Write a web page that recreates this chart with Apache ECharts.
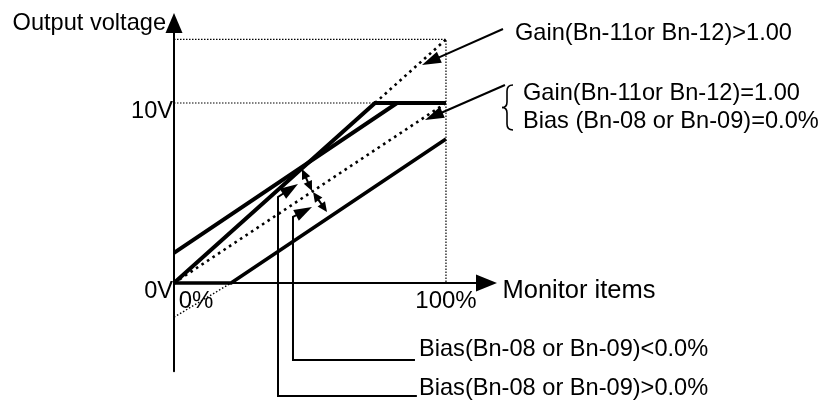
<!DOCTYPE html>
<html><head><meta charset="utf-8">
<script src="https://cdn.jsdelivr.net/npm/echarts@6/dist/echarts.min.js"></script>
<style>html,body{margin:0;padding:0;background:#fff}#c{width:825px;height:403px}</style>
</head><body><div id="c"></div>
<script>
// ---- Data (x: monitor item in %, y: output voltage in V) ----
const gainHigh    = [[0,0],[73.9,10],[100,10]];
const gainHighExt = [[73.9,10],[100,13.53]];
const biasPos     = [[0,1.67],[82,10],[100,10]];
const gainUnity   = [[0,0],[100,10]];
const biasNeg     = [[0,0],[21,0],[100,8]];
const biasNegExt  = [[0,-1.9],[21,0]];
const guideTop    = [[0,13.53],[100,13.53],[100,0]];
const guide10     = [[0,10],[73.9,10]];
const xTickValues = [0,100];
const xTickLabels = ['0%','100%'];
const yTickValues = [0,10];
const yTickLabels = ['0V','10V'];
const xAxisName = 'Monitor items';
const yAxisName = 'Output voltage';
const noteTexts = ['Gain(Bn-11or Bn-12)>1.00','Gain(Bn-11or Bn-12)=1.00','Bias (Bn-08 or Bn-09)=0.0%','Bias(Bn-08 or Bn-09)<0.0%','Bias(Bn-08 or Bn-09)>0.0%'];
// pointer paths in data coordinates, arrow head at the last point
const pointerGainHigh = [[120.96,14.11],[91.18,12.11]];
const pointerUnity    = [[121.69,11.0],[92.28,9.06]];
const pointerBiasNeg  = [[88.6,-4.28],[43.75,-4.28],[43.75,3.67],[50.74,4.22]];
const pointerBiasPos  = [[89.3,-6.28],[38.24,-6.28],[38.24,4.78],[45.59,5.5]];
const offsetUpper     = [[47.06,6.33],[50.74,5.11]];
const offsetLower     = [[51.1,5.06],[56.25,3.94]];

const FONT = '"Liberation Sans", Arial, Helvetica, sans-serif';
const FS = 23.6;

const arrows = [
  {pts: pointerGainHigh, head:[19,12], both:false, w:2},
  {pts: pointerUnity,    head:[19,12], both:false, w:2},
  {pts: pointerBiasNeg,  head:[18,12], both:false, w:2},
  {pts: pointerBiasPos,  head:[18,12], both:false, w:2},
  {pts: offsetUpper,     head:[10,9],  both:true,  w:2},
  {pts: offsetLower,     head:[10,9],  both:true,  w:2}
];

function renderArrow(params, api) {
  const a = arrows[params.dataIndex];
  const pts = a.pts.map(p => api.coord(p));
  const L = a.head[0], W = a.head[1];
  function head(tip, from) {
    const dx = tip[0]-from[0], dy = tip[1]-from[1];
    const len = Math.hypot(dx, dy), ux = dx/len, uy = dy/len;
    const bx = tip[0]-ux*L, by = tip[1]-uy*L;
    return {poly: [[tip[0],tip[1]],[bx-uy*W/2, by+ux*W/2],[bx+uy*W/2, by-ux*W/2]], base:[bx+ux*1, by+uy*1]};
  }
  const line = pts.map(p => p.slice());
  const n = pts.length;
  const children = [];
  const h1 = head(pts[n-1], pts[n-2]);
  line[n-1] = h1.base;
  children.push({type:'polygon', shape:{points:h1.poly}, style:{fill:'#000'}});
  if (a.both) {
    const h0 = head(pts[0], pts[1]);
    line[0] = h0.base;
    children.push({type:'polygon', shape:{points:h0.poly}, style:{fill:'#000'}});
  }
  children.unshift({type:'polyline', shape:{points:line}, style:{stroke:'#000', lineWidth:a.w, fill:null, lineJoin:'miter'}});
  return {type:'group', children};
}

function lineSeries(data, width, type, z) {
  return {type:'line', data, showSymbol:false, symbol:'none', animation:false, clip:false, silent:true, z,
    lineStyle:{color:'#000', width, type, cap:'butt', join:'miter'}};
}

const braceStyle = {stroke:'#000', lineWidth:1.6, fill:null};
const textStyle = (t) => ({text:t, font:FS+'px '+FONT, fill:'#000', verticalAlign:'middle', align:'left'});
const chart = echarts.init(document.getElementById('c'), null, {renderer:'canvas'});
chart.setOption({
  animation:false,
  backgroundColor:'#fff',
  grid:{left:174, top:22.9, width:312.5, height:348.3, containLabel:false},
  xAxis:{
    type:'value', min:0, max:114.9, splitLine:{show:false}, axisTick:{show:false},
    axisLine:{onZero:true, lineStyle:{color:'#000', width:2}, symbol:['none','triangle'], symbolSize:[17,21]},
    axisLabel:{customValues:xTickValues, color:'#000', fontSize:24, fontFamily:FONT, margin:-70, verticalAlign:'middle',
      formatter: v => { const s = xTickLabels[xTickValues.indexOf(v)]; return v === 0 ? '{p|}' + s : s; },
      rich:{p:{width:44}}},
    name:xAxisName, nameLocation:'end', nameGap:16,
    nameTextStyle:{color:'#000', fontSize:25.5, fontFamily:FONT, align:'left', verticalAlign:'top', lineHeight:16}
  },
  yAxis:{
    type:'value', min:-4.9, max:14.45, splitLine:{show:false}, axisTick:{show:false},
    axisLine:{onZero:true, lineStyle:{color:'#000', width:2}, symbol:['none','triangle'], symbolSize:[17,20]},
    axisLabel:{customValues:yTickValues, color:'#000', fontSize:FS, fontFamily:FONT, margin:1, verticalAlign:'top', lineHeight:16,
      formatter: v => yTickLabels[yTickValues.indexOf(v)]},
    name:yAxisName, nameLocation:'end', nameGap:-1,
    nameTextStyle:{color:'#000', fontSize:FS, fontFamily:FONT, align:'right', verticalAlign:'middle', padding:[0,8,0,0]}
  },
  series:[
    lineSeries(guideTop, 1.2, [1.5,1.5], 1),
    lineSeries(guide10, 1.2, [1.5,1.5], 1),
    lineSeries(gainHighExt, 2.6, [2.6,4], 2),
    lineSeries(gainUnity, 2.6, [2.6,4], 2),
    lineSeries(biasNegExt, 1.4, [1.5,2], 2),
    lineSeries(gainHigh, 4, 'solid', 3),
    lineSeries(biasPos, 4, 'solid', 3),
    lineSeries(biasNeg, 3.6, 'solid', 3),
    {type:'custom', renderItem:renderArrow, clip:false, silent:true, z:4, animation:false,
      data: arrows.map(a => a.pts[a.pts.length-1])}
  ],
  graphic:[
    {type:'text', x:515, y:33, style:textStyle(noteTexts[0])},
    {type:'text', x:523, y:93, style:textStyle(noteTexts[1])},
    {type:'text', x:523, y:121, style:textStyle(noteTexts[2])},
    {type:'text', x:419, y:349, style:textStyle(noteTexts[3])},
    {type:'text', x:419, y:388, style:textStyle(noteTexts[4])},
    {type:'bezierCurve', shape:{x1:513, y1:85, x2:507, y2:91, cpx1:507, cpy1:85}, style:braceStyle},
    {type:'line', shape:{x1:507, y1:91, x2:507, y2:102}, style:braceStyle},
    {type:'bezierCurve', shape:{x1:507, y1:102, x2:502, y2:107.5, cpx1:507, cpy1:107.5}, style:braceStyle},
    {type:'bezierCurve', shape:{x1:502, y1:107.5, x2:507, y2:113, cpx1:507, cpy1:107.5}, style:braceStyle},
    {type:'line', shape:{x1:507, y1:113, x2:507, y2:124}, style:braceStyle},
    {type:'bezierCurve', shape:{x1:507, y1:124, x2:513, y2:130, cpx1:507, cpy1:130}, style:braceStyle}
  ]
});
</script></body></html>
